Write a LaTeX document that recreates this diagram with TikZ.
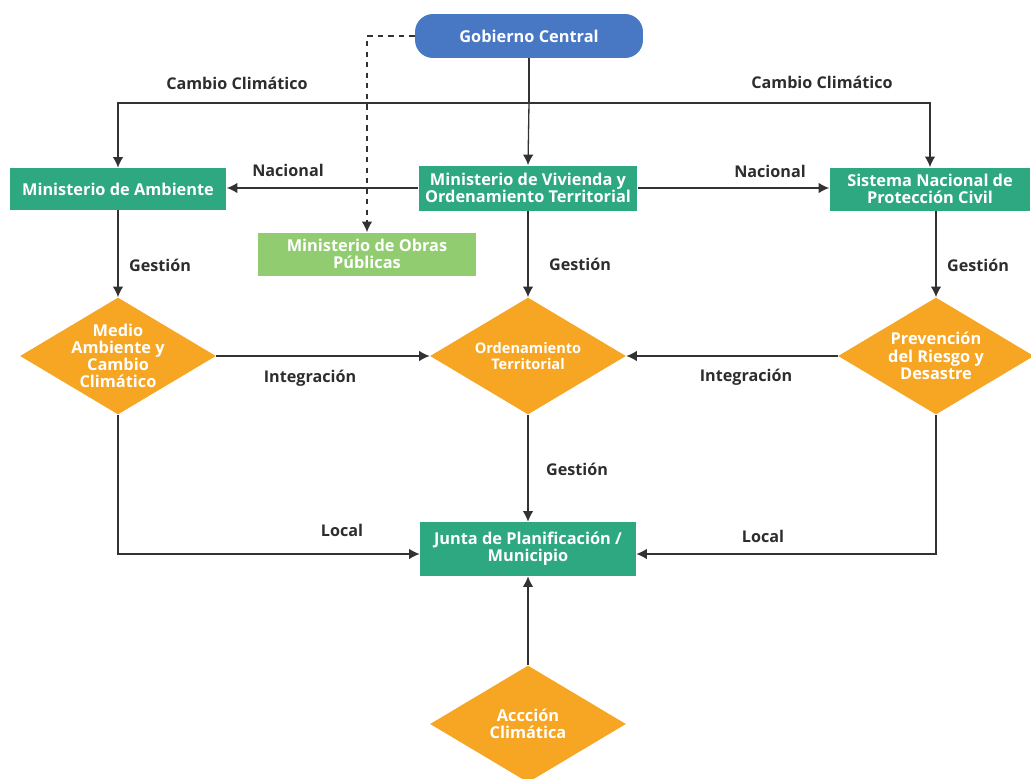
\documentclass[tikz,border=0pt]{standalone}
\usepackage{fontspec}
\setmainfont{Open Sans}
\usetikzlibrary{shapes.geometric,arrows.meta}
\definecolor{govblue}{RGB}{72,120,196}
\definecolor{minteal}{RGB}{46,168,128}
\definecolor{obragreen}{RGB}{146,204,112}
\definecolor{rhomborange}{RGB}{247,166,36}
\definecolor{lblgray}{RGB}{45,45,45}
\definecolor{linegray}{RGB}{50,50,50}

\begin{document}
\begin{tikzpicture}[x=0.02cm,y=-0.02cm,
  box/.style={fill=minteal,text=white,font=\bfseries\fontsize{9.3}{9.8}\selectfont,align=center,inner sep=0pt},
  rhomb/.style={diamond,fill=rhomborange,text=white,font=\bfseries\fontsize{9.3}{9.8}\selectfont,align=center,inner sep=-14pt,minimum width=3.92cm,minimum height=2.34cm},
  lbl/.style={text=lblgray,font=\bfseries\fontsize{9.2}{10}\selectfont},
  arr/.style={draw=linegray,line width=0.75pt,-{Latex[length=6pt,width=6pt]}},
  wire/.style={draw=linegray,line width=0.75pt}]

\useasboundingbox (0,0) rectangle (1031,778);

% top of the tree
\node[fill=govblue,text=white,rounded corners=0.36cm,font=\bfseries\fontsize{9.3}{10}\selectfont,minimum width=4.56cm,minimum height=0.88cm] (gob) at (529,36) {Gobierno Central};

\node[box,minimum width=4.34cm,minimum height=0.84cm] (amb) at (118,189) {Ministerio de Ambiente};
\node[box,minimum width=4.38cm,minimum height=0.9cm] (viv) at (528,188) {Ministerio de Vivienda y\\Ordenamiento Territorial};
\node[box,minimum width=4.02cm,minimum height=0.86cm] (sis) at (930,189) {Sistema Nacional de\\Protección Civil};
\node[box,fill=obragreen,minimum width=4.36cm,minimum height=0.86cm] (obras) at (367,254) {Ministerio de Obras\\Públicas};

% diamonds
\node[rhomb] (medio) at (118,356) {Medio\\Ambiente y\\Cambio\\Climático};
\node[rhomb,font=\bfseries\fontsize{8.3}{9.3}\selectfont] (orden) at (528,356) {Ordenamiento\\Territorial};
\node[rhomb] (prev) at (936,356) {Prevención\\del Riesgo y\\Desastre};
\node[rhomb] (accion) at (528,724) {Accción\\Climática};

\node[box,minimum width=4.32cm,minimum height=1.08cm] (junta) at (528,549) {Junta de Planificación /\\Municipio};

% labels
\node[lbl] (cc1) at (237,83) {Cambio Climático};
\node[lbl] (cc2) at (822,82) {Cambio Climático};
\node[lbl] (nac1) at (288,170) {Nacional};
\node[lbl] (nac2) at (770,171) {Nacional};
\node[lbl] (ges1) at (160,265) {Gestión};
\node[lbl] (ges2) at (580,264) {Gestión};
\node[lbl] (ges3) at (978,265) {Gestión};
\node[lbl] (int1) at (310,378) {Integración};
\node[lbl] (int2) at (746,377) {Integración};
\node[lbl] (ges4) at (577,469) {Gestión};
\node[lbl] (loc1) at (342,530) {Local};
\node[lbl] (loc2) at (763,536) {Local};

% connectors
\coordinate (split) at (529,103);
\draw[wire] (gob.south) -- (split);
\draw[arr] (split) -| (amb.north);
\draw[arr] (split) -| (sis.north);
\draw[arr] (split) -- (viv.north);
\draw[arr,dashed] (gob.west) -| (obras.north);

\draw[arr] (viv.west) -- (viv.west -| amb.east);
\draw[arr] (viv.east) -- (viv.east -| sis.west);

\draw[arr] (amb.south) -- (medio.north);
\draw[arr] (viv.south) -- (orden.north);
\draw[arr] (sis.south -| prev.north) -- (prev.north);

\draw[arr] (medio.east) -- (orden.west);
\draw[arr] (prev.west) -- (orden.east);

\draw[arr] (orden.south) -- (junta.north);
\draw[arr] (medio.south) |- ([yshift=-0.1cm]junta.west);
\draw[arr] (prev.south) |- ([yshift=-0.1cm]junta.east);
\draw[arr] (accion.north) -- (junta.south);

\end{tikzpicture}
\end{document}
